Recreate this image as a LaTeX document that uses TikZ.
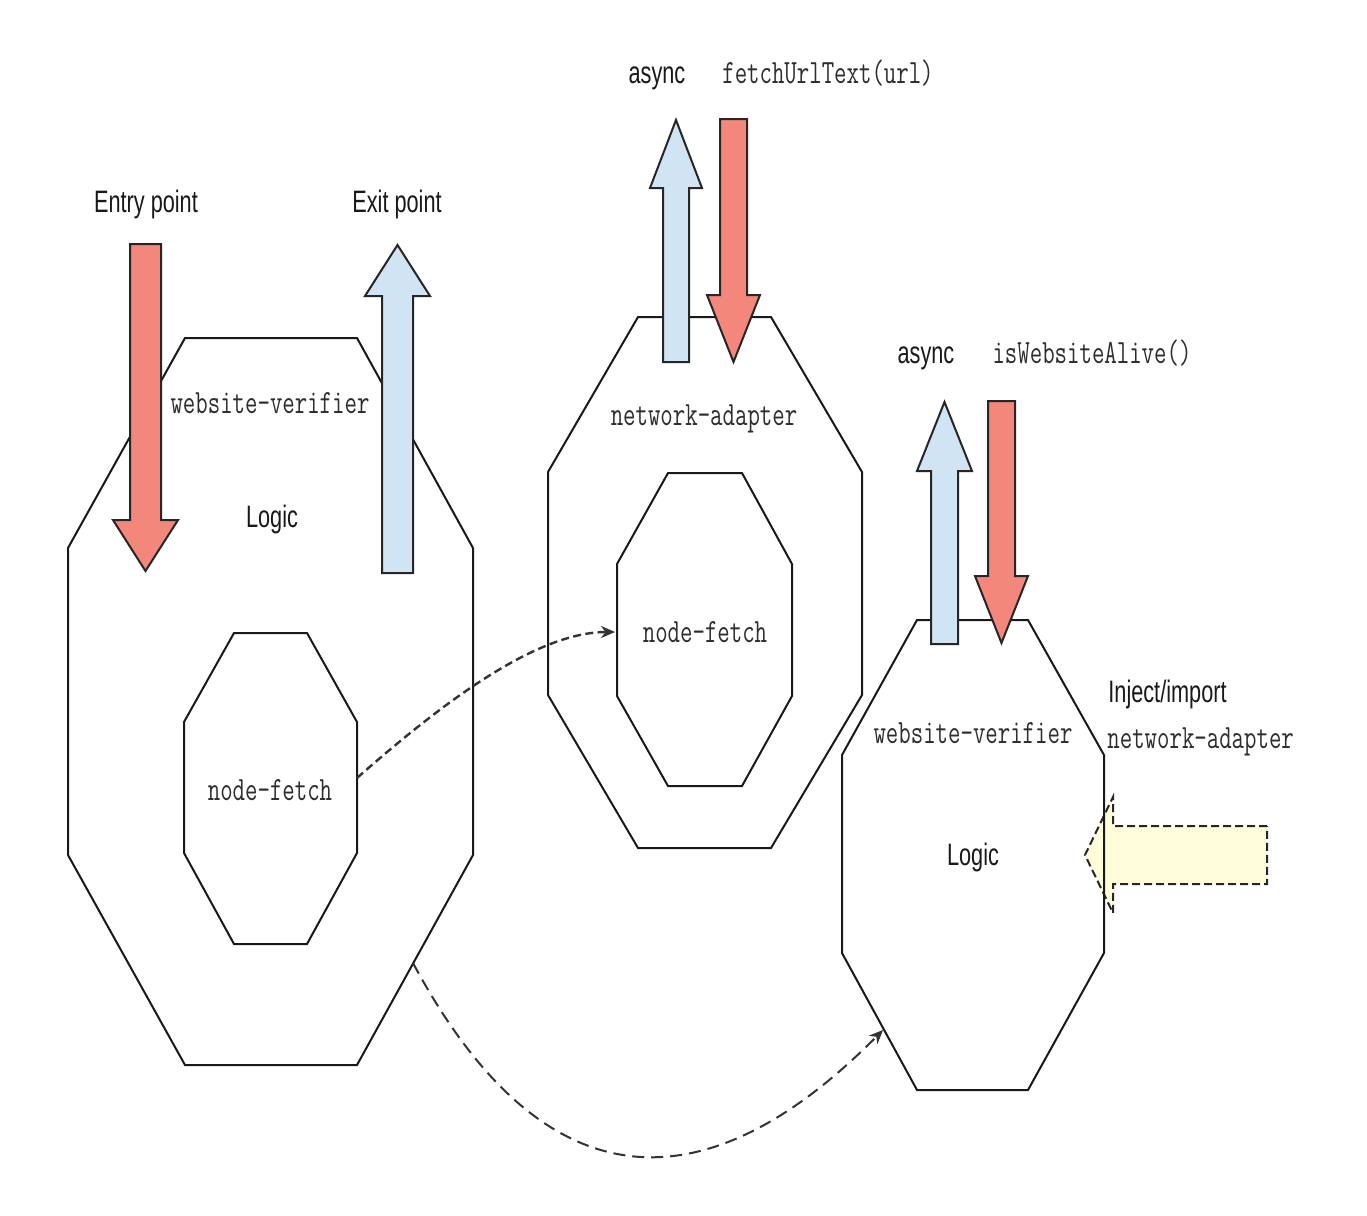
\documentclass[tikz,border=0pt]{standalone}
\usepackage{fontspec}
\usepackage{xcolor}
\usepackage{tikz}
\usetikzlibrary{arrows.meta}
\newfontfamily\labelfont[FakeStretch=0.7]{Liberation Sans}
\newfontfamily\codefont[FakeStretch=0.71]{Latin Modern Mono}
\definecolor{callred}{RGB}{243,135,124}
\definecolor{returnblue}{RGB}{208,228,244}
\definecolor{injectyellow}{RGB}{255,252,218}

\begin{document}
\begin{tikzpicture}[
    x=0.5pt, y=-0.5pt,
    octagon/.style={draw=black!90, line width=1pt, line join=miter},
    callarrow/.style={draw=black!85, fill=callred, line width=1pt},
    returnarrow/.style={draw=black!85, fill=returnblue, line width=1pt},
    injectarrow/.style={draw=black!85, fill=injectyellow, line width=1pt, dash pattern=on 4pt off 2pt},
    label/.style={font=\labelfont\fontsize{15.5}{18}\selectfont, text=black!90, inner sep=0pt, anchor=base},
    code/.style={font=\codefont\fontsize{17}{20}\selectfont, text=black!82, inner sep=0pt, anchor=base},
    flow/.style={draw=black!80, line width=1.2pt, -{Stealth[length=7pt,width=6pt]}}
]
\useasboundingbox[fill=white] (0,0) rectangle (1367,1216);

% Injected dependency
\draw [injectarrow] (1267,826) -- (1113,826) -- (1113,797) -- (1085,855) -- (1113,913) -- (1113,884) -- (1267,884) -- cycle;

% Left module
\draw [octagon] (185,338) -- (357,338) -- (473,548) -- (473,855) -- (357,1065) -- (185,1065) -- (68,855) -- (68,548) -- cycle;
\draw [octagon] (234,633) -- (307,633) -- (357,722) -- (357,853) -- (307,944) -- (234,944) -- (184,853) -- (184,722) -- cycle;

% Middle module
\draw [octagon] (638,317) -- (771,317) -- (862,472) -- (862,695) -- (771,848) -- (638,848) -- (548,695) -- (548,472) -- cycle;
\draw [octagon] (668,473) -- (742,473) -- (792,564) -- (792,696) -- (742,786) -- (668,786) -- (617,696) -- (617,564) -- cycle;

% Right module
\draw [octagon] (917,620) -- (1028,620) -- (1104,755) -- (1104,953) -- (1028,1090) -- (917,1090) -- (842,953) -- (842,755) -- cycle;

% Entry and exit
\draw [callarrow] (130,244) -- (161,244) -- (161,520) -- (178,520) -- (145.5,571) -- (113,520) -- (130,520) -- cycle;
\draw [returnarrow] (382,573) -- (413,573) -- (413,296) -- (430,296) -- (397.5,245) -- (365,296) -- (382,296) -- cycle;

% Middle calls
\draw [returnarrow] (663,362) -- (689,362) -- (689,188) -- (702,188) -- (676,120) -- (650,188) -- (663,188) -- cycle;
\draw [callarrow] (720,119) -- (747,119) -- (747,295) -- (760,295) -- (733.5,362) -- (707,295) -- (720,295) -- cycle;

% Right calls
\draw [returnarrow] (931,644) -- (958,644) -- (958,471) -- (972,471) -- (944.5,402) -- (917,471) -- (931,471) -- cycle;
\draw [callarrow] (988,401) -- (1015,401) -- (1015,576) -- (1028,576) -- (1001.5,643) -- (975,576) -- (988,576) -- cycle;

% Labels
\node [label] (entry) at (146,212) {Entry point};
\node [label] (exit) at (397,212) {Exit point};
\node [code] (verifierL) at (270,413) {website-verifier};
\node [label] (logicL) at (272,527) {Logic};
\node [code] (fetchL) at (270,800) {node-fetch};

\node [label] (asyncM) at (657,83) {async};
\node [code] (fetchText) at (828,83) {fetchUrlText(url)};
\node [code] (adapterM) at (704,425) {network-adapter};
\node [code] (fetchM) at (705,642) {node-fetch};

\node [label] (asyncR) at (926,363) {async};
\node [code] (alive) at (1092,363) {isWebsiteAlive()};
\node [code] (verifierR) at (973,743) {website-verifier};
\node [label] (logicR) at (973,865) {Logic};
\node [label, anchor=base west] (inject) at (1108,702) {Inject/import};
\node [code, anchor=base west] (adapterR) at (1107,748) {network-adapter};

% Connector ends
\coordinate (fetchOut) at (357,778);
\coordinate (fetchIn) at (615,632);
\coordinate (moduleOut) at (413,963);
\coordinate (moduleIn) at (883,1030);

\draw [flow, dash pattern=on 4pt off 2.2pt] (fetchOut) .. controls (440,705) and (535,632) .. (fetchIn);
\draw [flow, line width=1pt, dash pattern=on 6pt off 3.5pt] (moduleOut) .. controls (540,1200) and (700,1215) .. (moduleIn);

\end{tikzpicture}
\end{document}
